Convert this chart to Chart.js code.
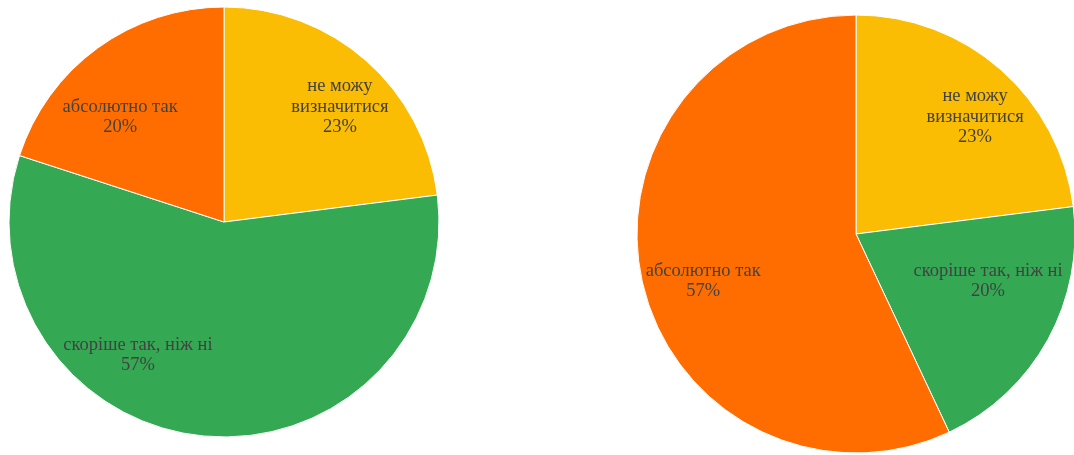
<!DOCTYPE html>
<html>
<head>
<meta charset="utf-8">
<script src="https://cdn.jsdelivr.net/npm/chart.js@4.4.1/dist/chart.umd.min.js"></script>
<style>
  html, body { margin: 0; padding: 0; background: #fff; }
  body { width: 1074px; height: 455px; overflow: hidden; position: relative; }
  .pie { position: absolute; width: 460px; height: 460px; }
  #leftPie { left: -6px; top: -8px; }
  #rightPie { left: 626px; top: 4px; }
</style>
</head>
<body>
<canvas id="leftPie" class="pie" width="460" height="460"></canvas>
<canvas id="rightPie" class="pie" width="460" height="460"></canvas>
<script>
// answers, clockwise from 12 o'clock
const leftCategories = ["не можу визначитися", "скоріше так, ніж ні", "абсолютно так"];
const leftValues = [23, 57, 20];

const rightCategories = ["не можу визначитися", "скоріше так, ніж ні", "абсолютно так"];
const rightValues = [23, 20, 57];

// same colour for the same answer on both pies
const answerColors = {
  "не можу визначитися": "#fbbc04",
  "скоріше так, ніж ні": "#34a853",
  "абсолютно так": "#ff6d01",
};

const labelFont = '18.5px "Liberation Serif", serif';

// wrap a label into lines no wider than maxWidth
function wrapText(ctx, text, maxWidth) {
  const words = text.split(" ");
  const lines = [];
  let line = "";
  words.forEach((w) => {
    const test = line ? line + " " + w : w;
    if (line && ctx.measureText(test).width > maxWidth) {
      lines.push(line);
      line = w;
    } else {
      line = test;
    }
  });
  if (line) lines.push(line);
  return lines;
}

// draws "label \n NN%" inside each slice
const sliceLabels = {
  id: "sliceLabels",
  afterDatasetsDraw(chart, args, opts) {
    const ctx = chart.ctx;
    const meta = chart.getDatasetMeta(0);
    const values = chart.data.datasets[0].data;
    ctx.save();
    ctx.font = labelFont;
    ctx.fillStyle = "#424242";
    ctx.textAlign = "center";
    ctx.textBaseline = "middle";
    meta.data.forEach((arc, i) => {
      const place = opts.places[i];
      const a = (place.angle - 90) * Math.PI / 180;
      const cx = arc.x + Math.cos(a) * arc.outerRadius * place.r;
      const cy = arc.y + Math.sin(a) * arc.outerRadius * place.r;
      const lines = wrapText(ctx, chart.data.labels[i], place.maxWidth);
      lines.push(values[i] + "%");
      const lh = 20.5;
      const top = cy - (lines.length - 1) * lh / 2;
      lines.forEach((l, j) => ctx.fillText(l, cx, top + j * lh));
    });
    ctx.restore();
  },
};

function makePie(id, categories, values, radius, places) {
  const ctx = document.getElementById(id).getContext("2d");
  return new Chart(ctx, {
    type: "pie",
    data: {
      labels: categories,
      datasets: [
        {
          data: values,
          backgroundColor: categories.map((c) => answerColors[c]),
          borderColor: "#ffffff",
          borderWidth: 1,
        },
      ],
    },
    options: {
      responsive: false,
      animation: false,
      radius: radius,
      layout: { padding: 0 },
      plugins: {
        legend: { display: false },
        tooltip: { enabled: false },
        sliceLabels: { places: places },
      },
    },
    plugins: [sliceLabels],
  });
}

function drawAll() {
  makePie("leftPie", leftCategories, leftValues, 215, [
    { angle: 45.2, r: 0.76, maxWidth: 120 },
    { angle: 212.9, r: 0.737, maxWidth: 220 },
    { angle: 315.3, r: 0.687, maxWidth: 220 },
  ]);

  makePie("rightPie", rightCategories, rightValues, 219, [
    { angle: 45.5, r: 0.762, maxWidth: 120 },
    { angle: 109.6, r: 0.64, maxWidth: 220 },
    { angle: 252.9, r: 0.73, maxWidth: 220 },
  ]);
}

// make sure the serif face is ready before the canvas text is drawn
document.fonts.load(labelFont, "абв").then(drawAll, drawAll);
</script>
</body>
</html>
